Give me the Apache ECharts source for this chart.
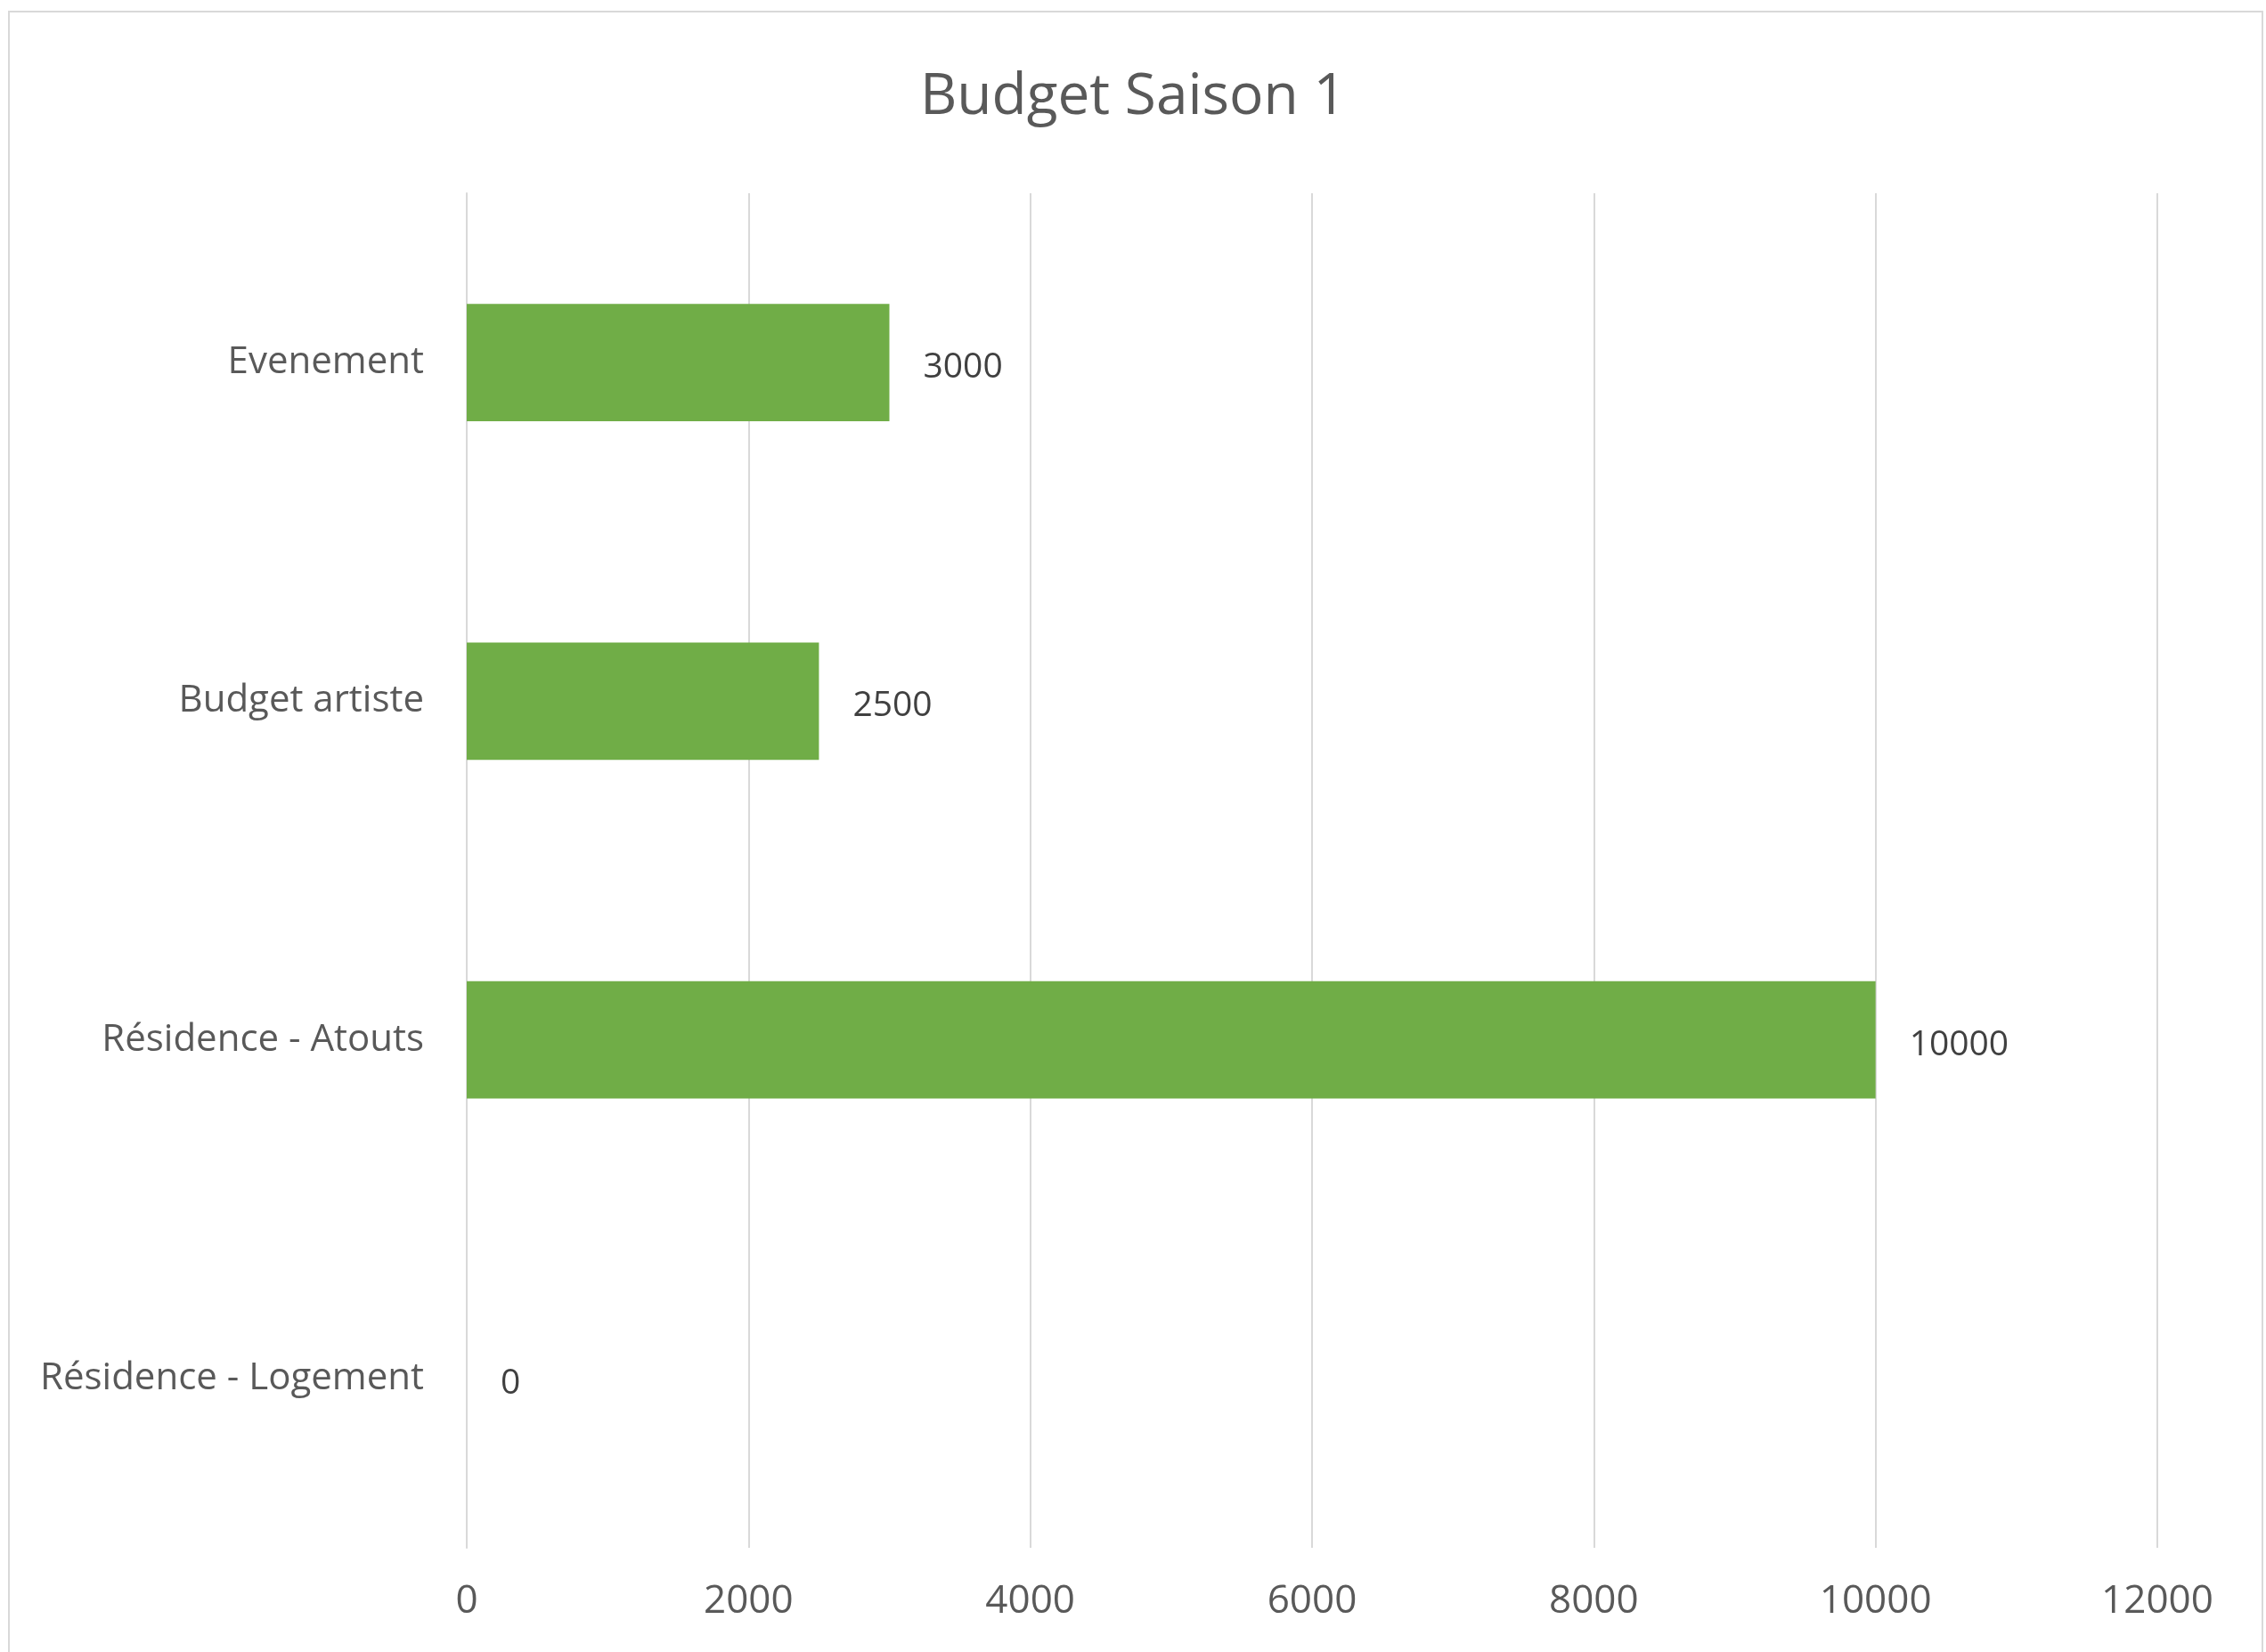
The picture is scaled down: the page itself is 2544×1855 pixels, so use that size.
<!DOCTYPE html>
<html>
<head>
<meta charset="utf-8">
<script src="https://cdn.jsdelivr.net/npm/echarts@6/dist/echarts.min.js"></script>
<style>
html,body{margin:0;padding:0;background:#fff;}
#chart{width:2544px;height:1855px;}
</style>
</head>
<body>
<div id="chart"></div>
<script>
const titleText = "Budget Saison 1";
const categories = ["Evenement", "Budget artiste", "Résidence - Atouts", "Résidence - Logement"];
const values = [3000, 2500, 10000, 0];
const xTicks = [0, 2000, 4000, 6000, 8000, 10000, 12000];

const chart = echarts.init(document.getElementById('chart'));
const font = '"Open Sans", "Noto Sans", sans-serif';
chart.setOption({
  backgroundColor: '#ffffff',
  animation: false,
  title: {
    text: titleText,
    left: 'center',
    top: 73,
    textStyle: { fontFamily: font, fontSize: 64, fontWeight: 'normal', color: '#595959' }
  },
  graphic: [{
    type: 'rect',
    shape: { x: 10, y: 13, width: 2530, height: 1900 },
    style: { fill: 'none', stroke: '#d9d9d9', lineWidth: 2 },
    silent: true, z: -1
  }],
  grid: { left: 524, right: 122, top: 217, bottom: 117, containLabel: false },
  xAxis: {
    type: 'value',
    min: xTicks[0],
    max: xTicks[xTicks.length - 1],
    interval: xTicks[1] - xTicks[0],
    axisLine: { show: false },
    axisTick: { show: false },
    splitLine: { show: true, lineStyle: { color: '#d9d9d9', width: 2 } },
    axisLabel: {
      fontFamily: font, fontSize: 44, color: '#595959', margin: 38,
      formatter: function (v) { return String(v); }
    }
  },
  yAxis: {
    type: 'category',
    data: categories,
    inverse: true,
    axisLine: { show: true, lineStyle: { color: '#d9d9d9', width: 2 } },
    axisTick: { show: false },
    axisLabel: { fontFamily: font, fontSize: 42, color: '#595959', margin: 48 }
  },
  series: [{
    type: 'bar',
    data: values,
    barWidth: '34.6%',
    itemStyle: { color: '#70ad47' },
    label: {
      show: true,
      position: 'right',
      distance: 38,
      offset: [0, 6],
      fontFamily: font,
      fontSize: 39,
      color: '#404040'
    }
  }]
});
</script>
</body>
</html>
